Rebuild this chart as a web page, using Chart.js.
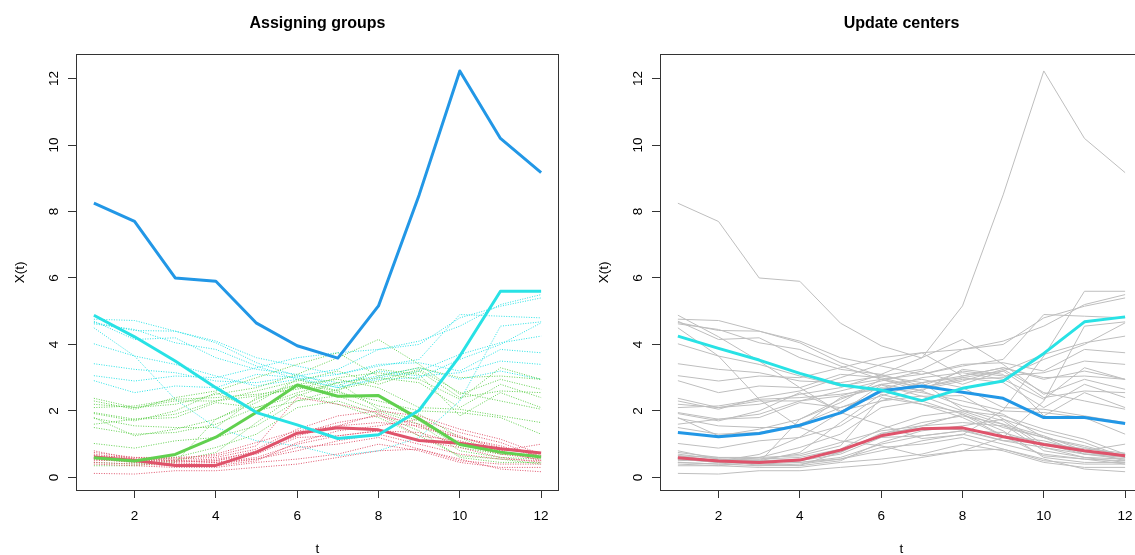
<!DOCTYPE html>
<html>
<head>
<meta charset="utf-8">
<script src="https://cdn.jsdelivr.net/npm/chart.js@4.4.1/dist/chart.umd.min.js"></script>
<style>
  html, body { margin: 0; padding: 0; background: #fff; overflow: hidden; width: 1135px; height: 555px; }
  .panel { position: absolute; top: 0; width: 584px; height: 555px; }
  #p1 { left: 0; }
  #p2 { left: 584px; }
</style>
</head>
<body>
<div class="panel" id="p1"><canvas id="c1" width="584" height="555"></canvas></div>
<div class="panel" id="p2"><canvas id="c2" width="584" height="555"></canvas></div>
<script>
// time grid
const times = [1, 2, 3, 4, 5, 6, 7, 8, 9, 10, 11, 12];
const xTickValues = [2, 4, 6, 8, 10, 12];
const yTickValues = [0, 2, 4, 6, 8, 10, 12];

// curves picked as starting centres (each one is also an observed curve)
const startBlue  = [8.25, 7.70, 6.00, 5.90, 4.64, 3.96, 3.59, 5.16, 8.50, 12.23, 10.20, 9.17];
const startCyan  = [4.88, 4.23, 3.50, 2.70, 1.95, 1.58, 1.17, 1.28, 2.02, 3.65, 5.60, 5.60];
const startGreen = [0.59, 0.49, 0.69, 1.21, 1.96, 2.78, 2.44, 2.46, 1.76, 0.99, 0.76, 0.61];
const startRed   = [0.61, 0.51, 0.36, 0.36, 0.76, 1.33, 1.49, 1.43, 1.11, 1.03, 0.86, 0.73];

// remaining curves, grouped by the centre they were assigned to
const cyanGroup = [
  [4.76, 4.72, 4.40, 4.05, 3.45, 3.05, 2.85, 3.05, 3.30, 2.95, 3.20, 2.95],
  [4.66, 4.42, 4.40, 4.10, 3.60, 3.35, 3.10, 3.40, 3.45, 3.20, 3.85, 3.75],
  [4.50, 3.65, 2.35, 1.50, 1.10, 0.95, 0.65, 0.80, 1.20, 2.30, 4.55, 4.68],
  [4.02, 3.65, 3.40, 3.05, 2.75, 2.95, 3.10, 3.35, 3.55, 4.90, 4.85, 4.80],
  [3.42, 3.25, 3.15, 2.90, 2.85, 3.05, 3.25, 3.85, 4.10, 4.55, 5.20, 5.50],
  [3.06, 2.90, 3.05, 3.00, 3.30, 3.60, 3.75, 3.85, 4.00, 4.80, 5.15, 5.40],
  [2.91, 2.55, 2.75, 2.70, 3.10, 3.00, 2.70, 3.00, 3.20, 3.70, 4.05, 4.25],
  [4.70, 4.15, 4.20, 3.60, 3.25, 3.10, 2.75, 3.20, 3.05, 3.15, 3.50, 3.40],
  [4.62, 4.45, 4.05, 3.85, 3.35, 2.95, 2.70, 2.95, 3.00, 3.55, 4.00, 4.65]
];
const greenGroup = [
  [2.38, 2.10, 2.20, 2.50, 2.70, 3.10, 3.60, 4.15, 3.40, 2.50, 2.95, 2.65],
  [2.30, 2.05, 2.40, 2.60, 3.00, 3.40, 3.75, 3.05, 3.30, 3.00, 3.05, 2.95],
  [2.20, 2.10, 2.30, 2.30, 2.60, 2.90, 3.20, 2.80, 3.20, 2.40, 2.60, 2.55],
  [2.10, 2.15, 2.35, 2.40, 2.50, 2.65, 3.00, 3.15, 2.95, 2.35, 3.30, 2.95],
  [1.95, 1.75, 1.80, 2.25, 2.10, 2.45, 2.85, 3.00, 2.85, 2.10, 2.80, 2.40],
  [1.92, 1.70, 2.00, 2.55, 2.00, 2.30, 2.65, 2.90, 3.25, 2.55, 2.30, 2.05],
  [1.80, 1.25, 1.45, 1.75, 2.35, 2.80, 2.95, 2.70, 2.10, 2.05, 1.85, 1.65],
  [1.78, 1.55, 1.50, 1.50, 2.40, 2.70, 2.55, 2.30, 2.00, 1.95, 1.80, 1.30],
  [1.50, 1.30, 1.35, 1.60, 2.10, 2.55, 2.85, 2.05, 1.70, 0.90, 0.70, 0.60],
  [1.02, 0.88, 1.10, 1.20, 1.55, 2.30, 2.45, 2.00, 1.60, 0.80, 0.60, 0.55],
  [0.55, 0.45, 0.60, 0.90, 1.30, 2.10, 2.30, 1.90, 1.40, 0.60, 0.45, 0.45],
  [0.45, 0.40, 0.50, 0.75, 1.65, 2.50, 2.20, 1.80, 1.25, 0.65, 0.55, 0.40],
  [0.35, 0.35, 0.45, 1.75, 2.25, 2.95, 2.60, 2.15, 1.90, 1.20, 0.70, 0.70],
  [1.60, 1.75, 1.90, 2.30, 2.45, 2.80, 2.60, 3.25, 3.10, 1.85, 2.55, 2.10]
];
const redGroup = [
  [0.80, 0.55, 0.55, 0.60, 0.85, 1.45, 1.85, 2.00, 1.85, 1.45, 1.15, 0.70],
  [0.75, 0.60, 0.60, 0.65, 0.95, 2.40, 2.20, 1.95, 1.50, 1.20, 0.90, 0.65],
  [0.70, 0.55, 0.50, 0.55, 0.75, 1.30, 1.65, 1.85, 1.60, 1.25, 0.80, 1.00],
  [0.65, 0.60, 0.55, 0.70, 1.05, 1.40, 1.55, 1.90, 1.25, 1.10, 0.80, 0.50],
  [0.60, 0.50, 0.45, 0.50, 0.70, 1.20, 1.25, 1.40, 1.10, 0.90, 0.60, 0.45],
  [0.55, 0.45, 0.40, 0.45, 0.60, 1.00, 1.25, 1.40, 1.35, 1.00, 0.70, 0.55],
  [0.50, 0.55, 0.50, 0.45, 0.55, 0.80, 1.10, 1.30, 1.00, 0.70, 0.55, 0.50],
  [0.45, 0.40, 0.35, 0.40, 0.55, 0.90, 1.00, 1.20, 0.85, 0.50, 0.40, 0.40],
  [0.40, 0.35, 0.30, 0.30, 0.45, 0.55, 0.70, 1.00, 0.80, 0.45, 0.30, 0.30],
  [0.12, 0.10, 0.20, 0.20, 0.30, 0.40, 0.60, 0.80, 0.85, 0.55, 0.25, 0.17],
  [0.65, 0.50, 0.40, 0.35, 0.50, 1.05, 1.40, 1.55, 1.75, 1.35, 1.05, 0.60],
  [0.58, 0.52, 0.48, 0.50, 0.80, 1.25, 1.55, 1.65, 1.55, 1.20, 0.95, 0.62]
];

// centres after the update step
const newCyan = [4.25, 3.88, 3.53, 3.13, 2.78, 2.63, 2.31, 2.68, 2.90, 3.73, 4.68, 4.83];
const newBlue = [1.35, 1.22, 1.32, 1.57, 1.94, 2.61, 2.75, 2.56, 2.38, 1.80, 1.80, 1.62];
const newRed  = [0.59, 0.49, 0.45, 0.52, 0.82, 1.25, 1.46, 1.49, 1.22, 0.99, 0.80, 0.65];

const COL = { red: '#DF536B', green: '#61D04F', blue: '#2297E6', cyan: '#28E2E5', gray: '#BEBEBE' };
const FONT = '"Liberation Sans", Arial, Helvetica, sans-serif';

function pts(vals) { return vals.map((v, i) => ({ x: times[i], y: v })); }

function line(vals, color, width, dash) {
  return {
    data: pts(vals), borderColor: color, borderWidth: width,
    borderDash: dash || [], pointRadius: 0, tension: 0, fill: false,
    borderCapStyle: 'butt', borderJoinStyle: 'round'
  };
}

// frame, tick labels and titles in the style of a base-graphics plot
const framePlugin = {
  id: 'frame',
  afterDraw(chart, args, opts) {
    const { ctx, chartArea: a, scales: { x, y } } = chart;
    ctx.save();
    ctx.strokeStyle = '#333';
    ctx.lineWidth = 1;
    ctx.strokeRect(a.left + 0.5, a.top - 0.5, a.right - a.left - 1, a.bottom - a.top + 1);

    ctx.fillStyle = '#000';
    ctx.font = '13.5px ' + FONT;
    ctx.textAlign = 'center';
    ctx.textBaseline = 'alphabetic';
    x.ticks.forEach(t => ctx.fillText(String(t.value), x.getPixelForValue(t.value), a.bottom + 30));
    y.ticks.forEach(t => {
      ctx.save();
      ctx.translate(a.left - 18, y.getPixelForValue(t.value));
      ctx.rotate(-Math.PI / 2);
      ctx.fillText(String(t.value), 0, 0);
      ctx.restore();
    });

    ctx.fillText(opts.xTitle, (a.left + a.right) / 2, a.bottom + 63);
    ctx.save();
    ctx.translate(a.left - 52, (a.top + a.bottom) / 2);
    ctx.rotate(-Math.PI / 2);
    ctx.fillText(opts.yTitle, 0, 0);
    ctx.restore();

    ctx.font = 'bold 16px ' + FONT;
    ctx.fillText(opts.title, (a.left + a.right) / 2, a.top - 27.5);
    ctx.restore();
  }
};

function axes() {
  const grid = { display: true, drawOnChartArea: false, drawTicks: true, tickLength: 8, color: '#333', lineWidth: 1 };
  return {
    x: {
      type: 'linear', min: 0.56, max: 12.44,
      afterBuildTicks: s => { s.ticks = xTickValues.map(v => ({ value: v })); },
      afterFit: s => { s.height = 65; },
      ticks: { display: false },
      grid: grid, border: { display: false }
    },
    y: {
      type: 'linear', min: -0.38, max: 12.71,
      afterBuildTicks: s => { s.ticks = yTickValues.map(v => ({ value: v })); },
      afterFit: s => { s.width = 76; },
      ticks: { display: false },
      grid: grid, border: { display: false }
    }
  };
}

function makeChart(id, layers, title) {
  // layers are listed bottom to top
  const n = layers.length;
  layers.forEach((d, i) => { d.order = n - i; });
  return new Chart(document.getElementById(id), {
    type: 'line',
    data: { datasets: layers },
    options: {
      responsive: false, animation: false, devicePixelRatio: 1, events: [],
      layout: { padding: { left: 0, top: 55, right: 25, bottom: 0 } },
      scales: axes(),
      plugins: {
        legend: { display: false }, tooltip: { enabled: false },
        frame: { title: title, xTitle: 't', yTitle: 'X(t)' }
      }
    },
    plugins: [framePlugin]
  });
}

const DOT = [1, 1.5];

// left: every curve dotted in its group colour, starting centres thick
const leftLayers = [];
cyanGroup.forEach(c => leftLayers.push(line(c, COL.cyan, 1, DOT)));
greenGroup.forEach(c => leftLayers.push(line(c, COL.green, 1, DOT)));
redGroup.forEach(c => leftLayers.push(line(c, COL.red, 1, DOT)));
leftLayers.push(line(startBlue, COL.blue, 3));
leftLayers.push(line(startRed, COL.red, 3));
leftLayers.push(line(startGreen, COL.green, 3));
leftLayers.push(line(startCyan, COL.cyan, 3));
makeChart('c1', leftLayers, 'Assigning groups');

// right: all curves in grey, updated centres thick
const allCurves = [startBlue, startCyan, startGreen, startRed].concat(cyanGroup, greenGroup, redGroup);
const rightLayers = allCurves.map(c => line(c, COL.gray, 1));
rightLayers.push(line(newRed, COL.red, 3));
rightLayers.push(line(newBlue, COL.blue, 3));
rightLayers.push(line(newCyan, COL.cyan, 3));
makeChart('c2', rightLayers, 'Update centers');
</script>
</body>
</html>
